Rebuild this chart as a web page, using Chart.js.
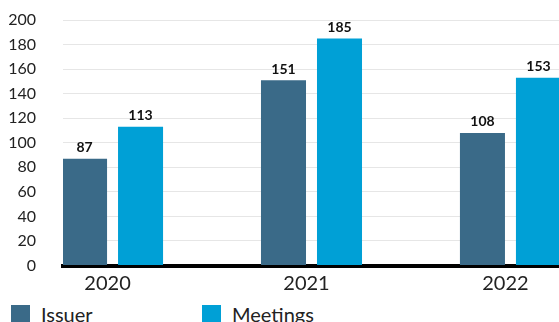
<!DOCTYPE html>
<html>
<head>
<meta charset="utf-8">
<script src="https://cdn.jsdelivr.net/npm/chart.js@4/dist/chart.umd.min.js"></script>
<style>
  html, body { margin: 0; padding: 0; background: #fff; overflow: hidden; }
  #wrap { position: relative; width: 559px; height: 322px; overflow: hidden; }
  canvas { position: absolute; left: 0; top: 0; }
  #legend { position: absolute; left: 11px; top: 302px; display: flex; font-family: Lato, sans-serif; font-size: 20px; color: #222; }
  .item { display: flex; align-items: flex-start; width: 191px; }
  .box { width: 19px; height: 19px; margin-top: 3px; margin-right: 11px; }
</style>
</head>
<body>
<div id="wrap">
  <canvas id="c" width="559" height="300"></canvas>
  <div id="legend"></div>
</div>
<script>
const categories = ['2020', '2021', '2022'];
const issuer = [87, 151, 108];
const meetings = [113, 185, 153];
const yTicks = [0, 20, 40, 60, 80, 100, 120, 140, 160, 180, 200];

const seriesNames = ['Issuer', 'Meetings'];
const seriesColors = ['#3a6a88', '#00a0d6'];

const toPoints = arr => arr.map((v, i) => ({ x: i, y: v }));

// value labels above each bar
const barValues = {
  id: 'barValues',
  afterDatasetsDraw(chart) {
    const ctx = chart.ctx;
    ctx.save();
    ctx.font = 'bold 14px Lato, sans-serif';
    ctx.fillStyle = '#111';
    ctx.textAlign = 'center';
    ctx.textBaseline = 'bottom';
    chart.data.datasets.forEach((ds, di) => {
      chart.getDatasetMeta(di).data.forEach((el, i) => {
        ctx.fillText(String(ds.data[i].y), el.x, el.y - 4);
      });
    });
    ctx.restore();
  }
};

const chart = new Chart(document.getElementById('c'), {
  type: 'bar',
  data: {
    datasets: [
      { label: seriesNames[0], data: toPoints(issuer), backgroundColor: seriesColors[0] },
      { label: seriesNames[1], data: toPoints(meetings), backgroundColor: seriesColors[1] }
    ]
  },
  options: {
    responsive: false,
    animation: false,
    devicePixelRatio: 1,
    categoryPercentage: 0.563,
    barPercentage: 0.804,
    layout: { padding: { top: 20, right: 0, bottom: 0, left: 0 } },
    plugins: { legend: { display: false }, tooltip: { enabled: false } },
    scales: {
      x: {
        type: 'linear',
        offset: false,
        min: -0.249,
        max: 2.244,
        z: 1,
        afterBuildTicks(scale) { scale.ticks = categories.map((c, i) => ({ value: i })); },
        afterFit(scale) { scale.height = 34.5; },
        grid: { display: false, drawTicks: false },
        border: { display: true, color: '#000', width: 4 },
        ticks: {
          callback: v => categories[v],
          font: { family: 'Lato, sans-serif', size: 20 },
          color: '#222',
          padding: 6,
          labelOffset: -5,
          maxRotation: 0
        }
      },
      y: {
        min: 0,
        max: 200,
        afterBuildTicks(scale) { scale.ticks = yTicks.map(v => ({ value: v })); },
        afterFit(scale) {
          scale.width = 63;
          scale.paddingTop = 0;
          scale.paddingBottom = 0;
        },
        grid: {
          drawTicks: false,
          color: c => (c.tick && c.tick.value === 0) ? 'rgba(0,0,0,0)' : '#e6e6e6',
          lineWidth: 1
        },
        border: { display: false },
        ticks: {
          font: { family: 'Lato, sans-serif', size: 16 },
          color: '#222',
          padding: 27
        }
      }
    }
  },
  plugins: [barValues]
});

// legend built from the datasets
const legend = document.getElementById('legend');
chart.data.datasets.forEach(ds => {
  const item = document.createElement('div');
  item.className = 'item';
  const box = document.createElement('span');
  box.className = 'box';
  box.style.background = ds.backgroundColor;
  const txt = document.createElement('span');
  txt.textContent = ds.label;
  item.appendChild(box);
  item.appendChild(txt);
  legend.appendChild(item);
});
</script>
</body>
</html>
